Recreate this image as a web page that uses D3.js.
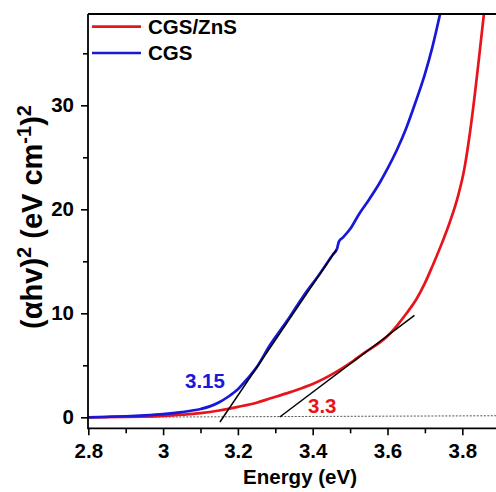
<!DOCTYPE html>
<html>
<head>
<meta charset="utf-8">
<script src="https://cdn.jsdelivr.net/npm/d3@7"></script>
<style>
  html, body { margin: 0; padding: 0; background: #fff; }
  svg { display: block; }
  text { font-family: "Liberation Sans", Arial, sans-serif; font-weight: bold; }
</style>
</head>
<body>
<svg id="chart" width="496" height="492"></svg>
<script>
// CGS (blue) absorption edge, energy in eV vs (ahv)^2
const cgsE = [2.80, 2.85, 2.90, 2.95, 3.00, 3.05, 3.10, 3.125, 3.15, 3.175, 3.20, 3.225, 3.25, 3.285, 3.33, 3.374, 3.419, 3.455, 3.465, 3.47, 3.481, 3.50, 3.525, 3.55, 3.58, 3.60, 3.625, 3.65, 3.675, 3.70, 3.72, 3.745]
const cgsV = [0, 0.05, 0.1, 0.18, 0.3, 0.5, 0.8, 1.05, 1.45, 2.0, 2.7, 3.7, 4.8, 6.9, 9.2, 11.6, 13.8, 15.7, 16.2, 16.9, 17.3, 18.1, 19.6, 20.9, 22.6, 23.9, 25.7, 27.8, 30.3, 33.0, 35.6, 39.5]
// CGS/ZnS (red)
const znsE = [2.80, 2.90, 2.95, 3.00, 3.05, 3.10, 3.15, 3.20, 3.25, 3.285, 3.33, 3.374, 3.40, 3.463, 3.50, 3.534, 3.598, 3.625, 3.651, 3.678, 3.70, 3.722, 3.745, 3.767, 3.788, 3.805, 3.821, 3.835, 3.847, 3.86]
const znsV = [0, 0.03, 0.07, 0.14, 0.25, 0.4, 0.65, 1.0, 1.4, 1.8, 2.3, 2.85, 3.2, 4.36, 5.2, 6.1, 7.75, 8.8, 10.0, 11.4, 12.9, 14.7, 16.7, 18.8, 21.2, 23.8, 27.5, 31.5, 35.3, 39.5]
// tangent lines (linear fits)
const cgsFitE = [3.152, 3.463]
const cgsFitV = [-0.45, 16.1]
const znsFitE = [3.312, 3.672]
const znsFitV = [0.03, 9.8]
// baseline
const baseE = [2.8, 3.9]
const baseV = [0, 0.15]

const xTicks = [2.8, 3.0, 3.2, 3.4, 3.6, 3.8]
const xMinor = [2.9, 3.1, 3.3, 3.5, 3.7]
const yTicks = [0, 10, 20, 30]
const yMinor = [5, 15, 25, 35]

const series = [
  { name: 'CGS/ZnS', E: znsE, V: znsV, color: '#e8141b' },
  { name: 'CGS', E: cgsE, V: cgsV, color: '#1818d8' }
]

let svg = d3.select('#chart')
let mLeft = 88, mTop = 14, mBottom = 428.3

let x = d3.scaleLinear().domain([2.8, 3.9]).range([88.3, 88.3 + 1.1 * 374])
let y = d3.scaleLinear().domain([0, 30]).range([417.3, 105.3])

svg.append('defs').append('clipPath').attr('id', 'clip')
  .append('rect').attr('x', mLeft).attr('y', mTop).attr('width', 496 - mLeft).attr('height', mBottom - mTop)

let plot = svg.append('g').attr('clip-path', 'url(#clip)')

let line = d3.line().x(d => x(d[0])).y(d => y(d[1]))

// dashed baseline
plot.append('path')
  .datum(d3.zip(baseE, baseV))
  .attr('d', line)
  .attr('fill', 'none')
  .attr('stroke', '#555')
  .attr('stroke-width', 1)
  .attr('stroke-dasharray', '2,1.5')

let curve = d3.line().curve(d3.curveMonotoneX).x(d => x(d[0])).y(d => y(d[1]))

series.forEach(s => {
  plot.append('path')
    .datum(d3.zip(s.E, s.V))
    .attr('d', curve)
    .attr('fill', 'none')
    .attr('stroke', s.color)
    .attr('stroke-width', 2.7)
})

// fits
;[[cgsFitE, cgsFitV], [znsFitE, znsFitV]].forEach(f => {
  plot.append('path')
    .datum(d3.zip(f[0], f[1]))
    .attr('d', line)
    .attr('fill', 'none')
    .attr('stroke', '#000')
    .attr('stroke-width', 1.5)
})

// axes
let fmt = d3.format('~g')
svg.append('g').attr('transform', `translate(0,${mBottom})`)
  .call(d3.axisBottom(x).tickValues(xTicks).tickFormat(fmt).tickSize(7).tickSizeOuter(0).tickPadding(8))
svg.append('g').attr('transform', `translate(0,${mBottom})`)
  .call(d3.axisBottom(x).tickValues(xMinor).tickFormat('').tickSize(5).tickSizeOuter(0))

svg.append('g').attr('transform', `translate(${mLeft},0)`)
  .call(d3.axisLeft(y).tickValues(yTicks).tickSize(7).tickSizeOuter(0).tickPadding(7))
svg.append('g').attr('transform', `translate(${mLeft},0)`)
  .call(d3.axisLeft(y).tickValues(yMinor).tickFormat('').tickSize(5).tickSizeOuter(0))

svg.selectAll('.domain').remove()
svg.selectAll('.tick line').attr('stroke', '#000').attr('stroke-width', 1.6)
svg.selectAll('.tick text').attr('font-size', 20.5).attr('fill', '#000')
  .attr('font-family', '"Liberation Sans", Arial, sans-serif').attr('font-weight', 'bold')

// frame
svg.append('path')
  .attr('d', `M${mLeft},${mTop}H${x(3.9) + 5}M${mLeft},${mTop}V${mBottom}H${x(3.9) + 5}`)
  .attr('fill', 'none')
  .attr('stroke', '#000')
  .attr('stroke-width', 1.8)

// legend
series.forEach((s, i) => {
  let ly = 26.7 + i * 26.3
  svg.append('line').attr('x1', 92).attr('x2', 141).attr('y1', ly).attr('y2', ly)
    .attr('stroke', s.color).attr('stroke-width', 2.7)
  svg.append('text').attr('x', 148).attr('y', ly + 7).attr('font-size', 20.5).text(s.name)
})

// band gap labels
svg.append('text').attr('x', 185).attr('y', 388.3).attr('font-size', 20.5).attr('fill', '#1818d8').text('3.15')
svg.append('text').attr('x', 308).attr('y', 413.3).attr('font-size', 20.5).attr('fill', '#e8141b').text('3.3')

// axis titles
svg.append('text').attr('x', 300).attr('y', 484).attr('text-anchor', 'middle').attr('font-size', 20.5).text('Energy (eV)')

let yl = svg.append('text').attr('transform', 'translate(42,217) rotate(-90)')
  .attr('text-anchor', 'middle').attr('font-size', 29)
yl.append('tspan').text('(\u03b1hv)')
yl.append('tspan').attr('font-size', 20).attr('dy', -11).text('2')
yl.append('tspan').attr('dy', 11).text(' (eV cm')
yl.append('tspan').attr('font-size', 20).attr('dy', -11).text('-1')
yl.append('tspan').attr('dy', 11).text(')')
yl.append('tspan').attr('font-size', 20).attr('dy', -11).text('2')
</script>
</body>
</html>
